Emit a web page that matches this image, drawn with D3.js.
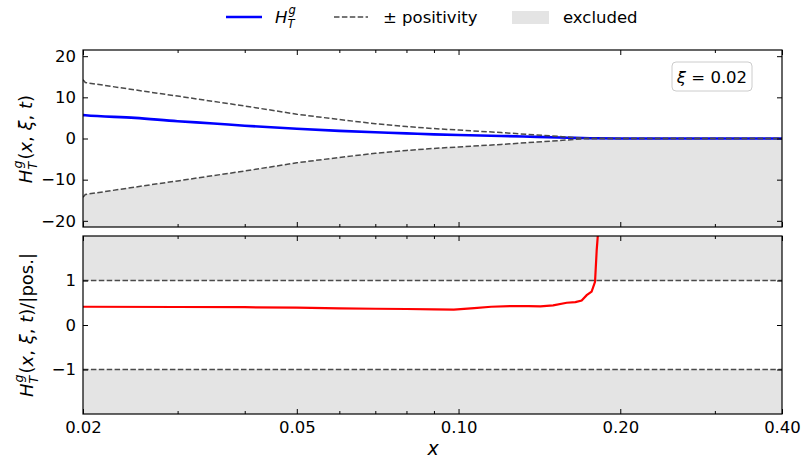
<!DOCTYPE html>
<html>
<head>
<meta charset="utf-8">
<script src="https://cdn.jsdelivr.net/npm/d3@7"></script>
<style>
  body { margin: 0; background: #fff; }
  svg { display: block; }
  text { font-family: "DejaVu Sans", sans-serif; fill: #000; }
</style>
</head>
<body>
<svg id="chart" width="802" height="461"></svg>
<script>
// values
const xGrid = [0.02, 0.0202, 0.025, 0.03, 0.035, 0.04, 0.05, 0.06, 0.07, 0.08, 0.09, 0.10,
               0.12, 0.14, 0.16, 0.17, 0.18, 0.20, 0.25, 0.30, 0.40];
const positivity = [14.3, 13.6, 11.8, 10.3, 9.0, 7.9, 5.9, 4.6, 3.6, 2.9, 2.4, 2.05,
                    1.45, 0.85, 0.35, 0.08, 0.0, 0.0, 0.0, 0.0, 0.0];
const hTg = [5.7, 5.65, 5.0, 4.2, 3.65, 3.1, 2.35, 1.85, 1.5, 1.25, 1.0, 0.85,
             0.62, 0.4, 0.2, 0.12, 0.05, 0.0, 0.0, 0.0, 0.0];

const xRatio = [0.02, 0.03, 0.04, 0.05, 0.06, 0.07, 0.08, 0.09, 0.098, 0.107, 0.115, 0.125,
                0.135, 0.142, 0.15, 0.159, 0.165, 0.1695, 0.1732, 0.1769, 0.1795, 0.1808, 0.1819, 0.183];
const ratio = [0.41, 0.405, 0.40, 0.39, 0.375, 0.365, 0.36, 0.35, 0.345, 0.38, 0.41, 0.425,
               0.425, 0.42, 0.44, 0.50, 0.515, 0.55, 0.67, 0.75, 0.97, 1.69, 2.1, 3.0];

const xMajor = [0.02, 0.05, 0.10, 0.20, 0.40];
const xMinor = [0.03, 0.04, 0.06, 0.07, 0.08, 0.09, 0.30];
const yTopTicks = [-20, -10, 0, 10, 20];
const yBotTicks = [-1, 0, 1];
const xiLabel = "0.02";

const FS = 16.5;
const svg = d3.select("#chart");

const xScale = d3.scaleLog().domain([0.02, 0.40]).range([83, 782]);
const yTop = d3.scaleLinear().domain([-21.5, 21.5]).range([227, 50]);
const yBot = d3.scaleLinear().domain([-2, 2]).range([414, 236]);

const fillCol = "#e4e4e4";
const dashCol = "#4a4a4a";

// clip paths
const defs = svg.append("defs");
defs.append("clipPath").attr("id", "clipTop").append("rect")
    .attr("x", 83).attr("y", 50).attr("width", 699).attr("height", 177);
defs.append("clipPath").attr("id", "clipBot").append("rect")
    .attr("x", 83).attr("y", 236).attr("width", 699).attr("height", 178);

// ---------- top panel ----------
const topG = svg.append("g").attr("clip-path", "url(#clipTop)");
const rows = xGrid.map((x, i) => ({x: x, p: positivity[i], h: hTg[i]}));

topG.append("path")
    .datum(rows)
    .attr("fill", fillCol)
    .attr("d", d3.area()
        .x(d => xScale(d.x))
        .y0(yTop(-21.5))
        .y1(d => yTop(-d.p)));

topG.append("path")
    .datum(rows)
    .attr("fill", "none")
    .attr("stroke", "#0000ff")
    .attr("stroke-width", 2.6)
    .attr("d", d3.line().curve(d3.curveMonotoneX).x(d => xScale(d.x)).y(d => yTop(d.h)));

[1, -1].forEach(s => {
    topG.append("path")
        .datum(rows)
        .attr("fill", "none")
        .attr("stroke", dashCol)
        .attr("stroke-width", 1.5)
        .attr("stroke-dasharray", "5.5,2.4")
        .attr("d", d3.line().x(d => xScale(d.x)).y(d => yTop(s * d.p)));
});

// ---------- bottom panel ----------
const botG = svg.append("g").attr("clip-path", "url(#clipBot)");
[[1, 2], [-2, -1]].forEach(b => {
    botG.append("rect")
        .attr("x", xScale(0.02))
        .attr("width", xScale(0.40) - xScale(0.02))
        .attr("y", yBot(b[1]))
        .attr("height", yBot(b[0]) - yBot(b[1]))
        .attr("fill", fillCol);
});
[1, -1].forEach(v => {
    botG.append("line")
        .attr("x1", xScale(0.02)).attr("x2", xScale(0.40))
        .attr("y1", yBot(v)).attr("y2", yBot(v))
        .attr("stroke", dashCol)
        .attr("stroke-width", 1.5)
        .attr("stroke-dasharray", "5.5,2.4");
});
botG.append("path")
    .datum(xRatio.map((x, i) => [x, ratio[i]]))
    .attr("fill", "none")
    .attr("stroke", "#ff0000")
    .attr("stroke-width", 2.2)
    .attr("d", d3.line().x(d => xScale(d[0])).y(d => yBot(d[1])));

// ---------- axes (ticks inward on all sides) ----------
function xAxes(yPos, withLabels) {
    const bottomAx = d3.axisBottom(xScale).tickValues(xMajor).tickSize(-5).tickPadding(7)
        .tickFormat(withLabels ? d3.format(".2f") : "");
    const bottomMin = d3.axisBottom(xScale).tickValues(xMinor).tickSize(-3).tickFormat("");
    const topAx = d3.axisTop(xScale).tickValues(xMajor).tickSize(-5).tickFormat("");
    const topMin = d3.axisTop(xScale).tickValues(xMinor).tickSize(-3).tickFormat("");
    svg.append("g").attr("transform", `translate(0,${yPos[1]})`).call(bottomAx);
    svg.append("g").attr("transform", `translate(0,${yPos[1]})`).call(bottomMin);
    svg.append("g").attr("transform", `translate(0,${yPos[0]})`).call(topAx);
    svg.append("g").attr("transform", `translate(0,${yPos[0]})`).call(topMin);
}
xAxes([50, 227], false);
xAxes([236, 414], true);

function yAxes(scale, ticks) {
    svg.append("g").attr("transform", "translate(83,0)")
        .call(d3.axisLeft(scale).tickValues(ticks).tickSize(-5).tickPadding(7).tickFormat(d3.format("d")));
    svg.append("g").attr("transform", "translate(782,0)")
        .call(d3.axisRight(scale).tickValues(ticks).tickSize(-5).tickFormat(""));
}
yAxes(yTop, yTopTicks);
yAxes(yBot, yBotTicks);

svg.selectAll(".domain").remove();
svg.selectAll(".tick line").attr("stroke", "#000").attr("stroke-width", 1);
svg.selectAll(".tick text").style("font-size", FS + "px").style("font-family", "DejaVu Sans");

// frames
[[50, 227], [236, 414]].forEach(p => {
    svg.append("rect")
        .attr("x", 83).attr("y", p[0])
        .attr("width", 699).attr("height", p[1] - p[0])
        .attr("fill", "none").attr("stroke", "#000").attr("stroke-width", 1.2);
});

// ---------- math-ish labels, one <text> with tspans ----------
// parts: {t, it} or {sub, sup}
function mathText(textSel, parts, fs) {
    let curDy = 0, pendingDx = 0;
    textSel.style("font-size", fs + "px").style("white-space", "pre");
    parts.forEach(p => {
        if (p.sub !== undefined) {
            const small = fs * 0.7;
            const subDy = fs * 0.28, supDy = -fs * 0.56;
            const a = textSel.append("tspan").attr("dy", subDy - curDy).attr("dx", pendingDx)
                .style("font-size", small + "px").style("font-style", "italic").text(p.sub);
            const wa = a.node().getComputedTextLength();
            const b = textSel.append("tspan").attr("dx", -wa + 1).attr("dy", supDy - subDy)
                .style("font-size", small + "px").style("font-style", "italic").text(p.sup);
            const wb = b.node().getComputedTextLength();
            curDy = supDy;
            pendingDx = Math.max(0, wa - wb - 1) + 1;
        } else {
            textSel.append("tspan").attr("dy", -curDy).attr("dx", pendingDx)
                .style("font-style", p.it ? "italic" : "normal")
                .text(p.t);
            curDy = 0;
            pendingDx = 0;
        }
    });
    return textSel;
}

const hParts = [{t: "H", it: true}, {sub: "T", sup: "g"}];
const argParts = [{t: "("}, {t: "x", it: true}, {t: ", "}, {t: "ξ", it: true}, {t: ", "}, {t: "t", it: true}, {t: ")"}];

function yLabel(cx, cy, parts) {
    const t = svg.append("text")
        .attr("transform", `translate(${cx},${cy}) rotate(-90)`)
        .attr("text-anchor", "middle");
    mathText(t, parts, 18);
}
yLabel(32, 139, hParts.concat(argParts));
yLabel(33, 325, hParts.concat(argParts, [{t: "/|pos.|"}]));

// x label
svg.append("text").attr("x", 433).attr("y", 455)
    .attr("text-anchor", "middle")
    .style("font-size", "19px").style("font-style", "italic").text("x");

// xi box
svg.append("rect").attr("x", 672).attr("y", 62).attr("width", 80).attr("height", 29)
    .attr("rx", 4).attr("fill", "#fff").attr("stroke", "#cccccc").attr("stroke-width", 1);
mathText(svg.append("text").attr("x", 712).attr("y", 83).attr("text-anchor", "middle"),
    [{t: "ξ", it: true}, {t: " = " + xiLabel}], FS);

// ---------- legend ----------
const leg = svg.append("g");
leg.append("line").attr("x1", 226).attr("x2", 262).attr("y1", 17).attr("y2", 17)
    .attr("stroke", "#0000ff").attr("stroke-width", 2.6);
mathText(leg.append("text").attr("x", 275).attr("y", 23), hParts, FS);
leg.append("line").attr("x1", 334).attr("x2", 368).attr("y1", 17).attr("y2", 17)
    .attr("stroke", dashCol).attr("stroke-width", 1.5).attr("stroke-dasharray", "5.5,2.4");
leg.append("text").attr("x", 383).attr("y", 23).style("font-size", FS + "px")
    .style("white-space", "pre").text("± positivity");
leg.append("rect").attr("x", 512).attr("y", 11).attr("width", 37).attr("height", 13)
    .attr("fill", fillCol);
leg.append("text").attr("x", 563).attr("y", 23).style("font-size", FS + "px").text("excluded");
</script>
</body>
</html>
